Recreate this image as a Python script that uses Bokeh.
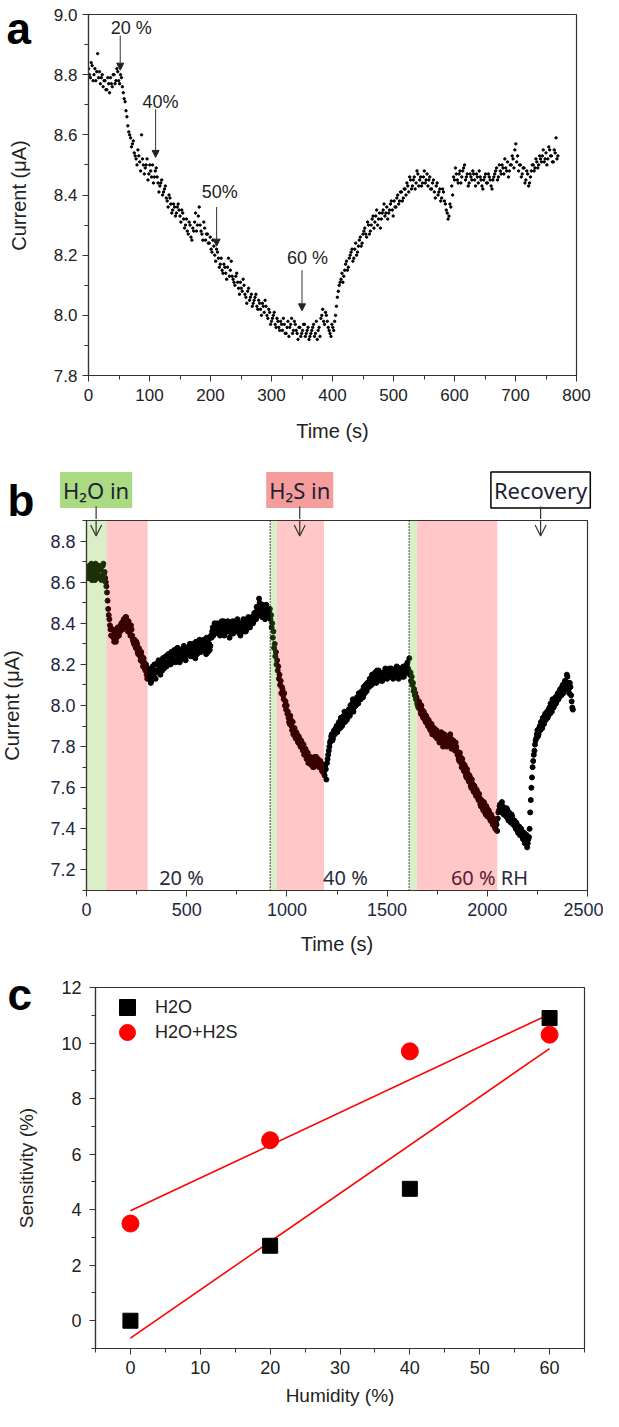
from bokeh.plotting import figure
from bokeh.layouts import column, row
from bokeh.models import (Label, Arrow, NormalHead, OpenHead, Span, BoxAnnotation,
                          SingleIntervalTicker, NumeralTickFormatter, Range1d, Legend, LegendItem)
from bokeh.core.properties import value
from bokeh.embed import file_html
from bokeh.resources import INLINE
import numpy as np

# ---------------- data: panel a (current vs time, humidity steps) -------------
a_step = 3  # s between readings (two interleaved reading sets, offset 1.5 s)
a_current = [
    8.82, 8.79, 8.83, 8.80, 8.78, 8.87, 8.81, 8.79, 8.76, 8.78, 8.75, 8.77, 8.79, 8.76, 8.80, 8.78, 8.81,
    8.77, 8.79, 8.74, 8.71, 8.66, 8.61, 8.59, 8.57, 8.54, 8.52, 8.55, 8.51, 8.60, 8.50, 8.49, 8.52,
    8.47, 8.48, 8.50, 8.46, 8.49, 8.44, 8.43, 8.45, 8.41, 8.43, 8.38, 8.40, 8.37, 8.35, 8.36, 8.34,
    8.37, 8.33, 8.35, 8.32, 8.30, 8.28, 8.31, 8.26, 8.29, 8.31, 8.28, 8.33, 8.30, 8.27, 8.31, 8.25,
    8.27, 8.24, 8.22, 8.25, 8.20, 8.22, 8.19, 8.17, 8.15, 8.17, 8.14, 8.16, 8.13, 8.18, 8.12, 8.10,
    8.14, 8.09, 8.11, 8.08, 8.10, 8.06, 8.08, 8.05, 8.07, 8.04, 8.06, 8.03, 8.05, 8.02, 8.04, 8.01,
    8.03, 7.99, 8.01, 7.98, 8.00, 7.97, 7.99, 7.96, 7.98, 7.95, 7.97, 7.94, 7.98, 7.96, 7.99, 7.95,
    7.97, 7.94, 7.96, 7.93, 7.95, 7.97, 7.94, 7.96, 7.93, 7.95, 7.97, 7.94, 7.92, 7.96, 7.99, 8.02,
    7.97, 8.00, 7.96, 7.94, 7.97, 7.95, 8.00, 8.06, 8.10, 8.12, 8.11, 8.15, 8.18, 8.16, 8.20, 8.22,
    8.19, 8.24, 8.21, 8.25, 8.23, 8.27, 8.29, 8.26, 8.30, 8.28, 8.32, 8.29, 8.33, 8.30, 8.34, 8.32,
    8.35, 8.33, 8.36, 8.34, 8.37, 8.35, 8.38, 8.36, 8.40, 8.38, 8.41, 8.39, 8.42, 8.44, 8.41, 8.45,
    8.43, 8.46, 8.44, 8.47, 8.45, 8.43, 8.46, 8.44, 8.47, 8.45, 8.42, 8.44, 8.41, 8.43, 8.40, 8.42,
    8.39, 8.41, 8.37, 8.34, 8.33, 8.36, 8.40, 8.45, 8.47, 8.44, 8.48, 8.46, 8.49, 8.45, 8.47, 8.44,
    8.46, 8.48, 8.45, 8.47, 8.44, 8.46, 8.43, 8.45, 8.47, 8.44, 8.46, 8.43, 8.45, 8.47, 8.49, 8.46,
    8.48, 8.50, 8.47, 8.49, 8.51, 8.48, 8.50, 8.52, 8.55, 8.51, 8.48, 8.50, 8.47, 8.49, 8.45, 8.47,
    8.44, 8.48, 8.50, 8.49, 8.51, 8.50, 8.52, 8.53, 8.51, 8.54, 8.52, 8.55, 8.53, 8.51, 8.54, 8.52,
]
a_current_2 = [
    8.80, 8.84, 8.78, 8.82, 8.81, 8.79, 8.77, 8.80, 8.78, 8.75, 8.79, 8.74, 8.77, 8.80, 8.77, 8.82, 8.78,
    8.80, 8.76, 8.72, 8.68, 8.63, 8.60, 8.56, 8.58, 8.53, 8.50, 8.53, 8.48, 8.52, 8.47, 8.50, 8.45,
    8.50, 8.46, 8.44, 8.48, 8.46, 8.41, 8.44, 8.40, 8.42, 8.39, 8.36, 8.39, 8.34, 8.37, 8.33, 8.36,
    8.35, 8.31, 8.34, 8.29, 8.32, 8.27, 8.30, 8.25, 8.28, 8.34, 8.30, 8.36, 8.28, 8.25, 8.29, 8.27,
    8.24, 8.26, 8.21, 8.23, 8.18, 8.21, 8.16, 8.19, 8.14, 8.16, 8.12, 8.19, 8.15, 8.13, 8.11, 8.13,
    8.11, 8.07, 8.09, 8.12, 8.07, 8.04, 8.09, 8.06, 8.03, 8.05, 8.07, 8.02, 8.04, 8.00, 8.03, 8.05,
    8.00, 8.02, 7.97, 7.99, 8.01, 7.96, 7.98, 7.95, 7.97, 7.99, 7.94, 7.96, 7.93, 7.97, 7.94, 7.98,
    7.95, 7.92, 7.96, 7.94, 7.97, 7.93, 7.95, 7.92, 7.94, 7.96, 7.93, 7.98, 7.95, 7.93, 8.00, 7.98,
    8.01, 7.98, 7.95, 7.93, 7.96, 7.98, 8.03, 8.08, 8.11, 8.14, 8.13, 8.17, 8.15, 8.19, 8.21, 8.18,
    8.22, 8.20, 8.23, 8.26, 8.24, 8.28, 8.27, 8.31, 8.27, 8.30, 8.33, 8.31, 8.35, 8.32, 8.29, 8.34,
    8.37, 8.34, 8.32, 8.35, 8.38, 8.33, 8.36, 8.39, 8.37, 8.41, 8.38, 8.42, 8.40, 8.43, 8.46, 8.42,
    8.45, 8.42, 8.48, 8.43, 8.46, 8.44, 8.48, 8.45, 8.43, 8.46, 8.42, 8.45, 8.39, 8.44, 8.41, 8.38,
    8.42, 8.38, 8.35, 8.32, 8.37, 8.43, 8.46, 8.49, 8.45, 8.47, 8.44, 8.48, 8.50, 8.46, 8.43, 8.47,
    8.45, 8.47, 8.43, 8.46, 8.48, 8.45, 8.42, 8.46, 8.44, 8.47, 8.45, 8.42, 8.46, 8.48, 8.45, 8.50,
    8.47, 8.49, 8.52, 8.48, 8.46, 8.50, 8.53, 8.49, 8.57, 8.53, 8.50, 8.46, 8.49, 8.44, 8.48, 8.43,
    8.46, 8.50, 8.48, 8.52, 8.49, 8.53, 8.51, 8.55, 8.52, 8.50, 8.56, 8.53, 8.51, 8.55, 8.59, 8.53,
]
a_time = [i * a_step for i in range(len(a_current))]
a_time_2 = [i * a_step + a_step / 2 for i in range(len(a_current_2))]
a_labels = ["20 %", "40%", "50%", "60 %"]
a_label_t = [70, 118, 215, 359]
a_label_y = [8.955, 8.71, 8.41, 8.19]
a_arrow_t = [52, 110, 210, 350]
a_arrow_y0 = [8.93, 8.685, 8.36, 8.15]
a_arrow_y1 = [8.815, 8.525, 8.23, 8.015]

# ---------------- data: panel b (H2O / H2S cycles) ----------------------------
b_step = 6  # two interleaved reading sets, offset 3 s
b_current = [
    8.64, 8.67, 8.62, 8.66, 8.69, 8.63, 8.65, 8.61, 8.67, 8.64, 8.68, 8.62, 8.66, 8.63, 8.69, 8.65, 8.60,
    8.55, 8.47, 8.42, 8.37,
    8.34, 8.37, 8.31, 8.35, 8.33, 8.38, 8.34, 8.36, 8.40, 8.37,
    8.42, 8.39, 8.43, 8.38, 8.41, 8.36, 8.39, 8.34, 8.31,
    8.32, 8.28, 8.30, 8.25, 8.27, 8.22, 8.24, 8.19, 8.21, 8.17, 8.15,
    8.18, 8.13, 8.16, 8.12, 8.19, 8.14, 8.17,
    8.20, 8.16, 8.22, 8.18, 8.21, 8.17, 8.23, 8.19, 8.24,
    8.21, 8.25, 8.22, 8.20, 8.26, 8.23, 8.27, 8.21, 8.25, 8.28, 8.24, 8.22, 8.27, 8.25, 8.29, 8.23, 8.26,
    8.28, 8.25, 8.30, 8.26, 8.24, 8.29, 8.27, 8.31, 8.25, 8.28, 8.32, 8.26, 8.29, 8.27, 8.31, 8.28, 8.33, 8.26, 8.30, 8.29,
    8.33, 8.38, 8.35, 8.39, 8.36, 8.40,
    8.37, 8.34, 8.39, 8.36, 8.41, 8.35, 8.38, 8.36, 8.40, 8.33, 8.37, 8.39, 8.35, 8.38, 8.41, 8.36,
    8.39, 8.37, 8.34, 8.40, 8.38, 8.36, 8.41, 8.37, 8.39, 8.42, 8.38,
    8.40, 8.43, 8.41, 8.45, 8.42, 8.47, 8.44, 8.50, 8.46, 8.43, 8.48, 8.45, 8.47, 8.44, 8.46,
    8.45, 8.42, 8.38, 8.33, 8.28, 8.24, 8.20,
    8.17, 8.13, 8.10, 8.06, 8.08, 8.03, 8.00, 7.98, 7.96,
    7.94, 7.91, 7.93, 7.88, 7.86, 7.89, 7.84, 7.86, 7.82,
    7.84, 7.80, 7.82, 7.78, 7.76, 7.79, 7.74, 7.77, 7.73,
    7.75, 7.71, 7.74, 7.70, 7.73, 7.75, 7.71, 7.73,
    7.70, 7.72, 7.68, 7.71, 7.66, 7.69,
    7.72, 7.76, 7.80, 7.83, 7.86, 7.84, 7.88,
    7.87, 7.90, 7.88, 7.92, 7.89, 7.93, 7.91, 7.95, 7.92, 7.96, 7.94,
    7.98, 7.95, 7.99, 8.01, 7.97, 8.02, 8.00, 8.04, 8.01, 8.05, 8.03, 8.07, 8.04, 8.08, 8.10, 8.07,
    8.11, 8.09, 8.13, 8.10, 8.14, 8.12, 8.16, 8.11, 8.14, 8.17, 8.13, 8.15, 8.12, 8.16, 8.14, 8.17, 8.13,
    8.15, 8.18, 8.14, 8.16, 8.13, 8.17, 8.15, 8.19, 8.14, 8.16, 8.18, 8.15, 8.17, 8.14, 8.19, 8.16, 8.21, 8.17,
    8.15, 8.12, 8.10, 8.07, 8.05, 8.03, 8.01,
    7.99, 8.01, 7.96, 7.98, 7.94, 7.96, 7.92, 7.94,
    7.90, 7.92, 7.88, 7.91, 7.87, 7.89, 7.85, 7.88, 7.84, 7.86, 7.83, 7.87, 7.82, 7.85, 7.81, 7.84, 7.82,
    7.85, 7.81, 7.84, 7.80, 7.83, 7.79, 7.82, 7.78,
    7.76, 7.73, 7.75, 7.70, 7.72, 7.68, 7.70, 7.65, 7.67,
    7.63, 7.65, 7.60, 7.62, 7.58, 7.60, 7.56, 7.58, 7.54,
    7.55, 7.51, 7.53, 7.49, 7.52, 7.47, 7.50, 7.46,
    7.48, 7.44, 7.46, 7.42, 7.44, 7.40, 7.42,
    7.45, 7.49, 7.52, 7.48, 7.51, 7.47,
    7.50, 7.46, 7.49, 7.44, 7.47, 7.43, 7.46,
    7.42, 7.44, 7.40, 7.42, 7.38, 7.41, 7.37,
    7.39, 7.35, 7.38, 7.34, 7.37, 7.33, 7.36,
    7.48, 7.60, 7.70, 7.76, 7.81,
    7.84, 7.88, 7.86, 7.90, 7.92, 7.89, 7.93, 7.95,
    7.93, 7.97, 7.95, 7.99, 8.01, 7.97, 8.02, 8.00, 8.04, 8.02,
    8.06, 8.04, 8.08, 8.05, 8.10, 8.07, 8.12, 8.09, 8.14,
    8.08, 8.11, 8.05, 7.99,
]
b_current_2 = [
    8.66, 8.62, 8.68, 8.64, 8.61, 8.67, 8.63, 8.69, 8.62, 8.66, 8.63, 8.67, 8.61, 8.68, 8.64, 8.62, 8.58,
    8.51, 8.44, 8.39, 8.34,
    8.37, 8.33, 8.36, 8.31, 8.36, 8.34, 8.37, 8.39, 8.37, 8.41,
    8.38, 8.43, 8.40, 8.36, 8.39, 8.34, 8.37, 8.32, 8.30,
    8.29, 8.31, 8.26, 8.28, 8.24, 8.26, 8.21, 8.23, 8.18, 8.20, 8.13,
    8.15, 8.17, 8.11, 8.18, 8.15, 8.20, 8.13,
    8.17, 8.21, 8.18, 8.15, 8.20, 8.23, 8.18, 8.21, 8.19,
    8.24, 8.20, 8.23, 8.26, 8.21, 8.25, 8.22, 8.26, 8.28, 8.23, 8.21, 8.26, 8.24, 8.28, 8.25, 8.22, 8.27,
    8.25, 8.29, 8.24, 8.28, 8.30, 8.26, 8.23, 8.28, 8.30, 8.26, 8.29, 8.31, 8.27, 8.32, 8.28, 8.25, 8.30, 8.32, 8.27, 8.34,
    8.36, 8.34, 8.40, 8.37, 8.38, 8.35,
    8.39, 8.36, 8.41, 8.38, 8.34, 8.39, 8.37, 8.41, 8.36, 8.39, 8.35, 8.41, 8.38, 8.36, 8.39, 8.42,
    8.37, 8.35, 8.40, 8.37, 8.42, 8.39, 8.36, 8.40, 8.43, 8.39, 8.41,
    8.43, 8.40, 8.45, 8.43, 8.48, 8.44, 8.52, 8.47, 8.44, 8.49, 8.46, 8.42, 8.49, 8.46, 8.43,
    8.47, 8.44, 8.40, 8.36, 8.30, 8.26, 8.22,
    8.19, 8.15, 8.12, 8.09, 8.05, 8.06, 8.02, 8.00, 7.97,
    7.92, 7.95, 7.90, 7.92, 7.87, 7.85, 7.87, 7.83, 7.85,
    7.81, 7.83, 7.79, 7.81, 7.77, 7.78, 7.76, 7.72, 7.75,
    7.72, 7.74, 7.70, 7.75, 7.71, 7.72, 7.74, 7.70,
    7.73, 7.69, 7.71, 7.67, 7.70, 7.64,
    7.74, 7.78, 7.82, 7.85, 7.83, 7.87, 7.86,
    7.89, 7.87, 7.91, 7.90, 7.94, 7.90, 7.93, 7.97, 7.94, 7.93, 7.97,
    7.96, 8.00, 7.97, 8.03, 7.99, 8.00, 8.03, 8.02, 8.06, 8.03, 8.06, 8.05, 8.09, 8.06, 8.09, 8.11,
    8.10, 8.13, 8.11, 8.15, 8.11, 8.14, 8.13, 8.17, 8.12, 8.15, 8.16, 8.12, 8.16, 8.14, 8.18, 8.15, 8.15,
    8.17, 8.15, 8.18, 8.14, 8.17, 8.15, 8.18, 8.16, 8.13, 8.18, 8.16, 8.14, 8.19, 8.16, 8.17, 8.20, 8.18, 8.23,
    8.16, 8.14, 8.11, 8.08, 8.06, 8.04, 8.00,
    8.02, 7.98, 8.00, 7.95, 7.97, 7.93, 7.95, 7.91,
    7.93, 7.89, 7.91, 7.86, 7.89, 7.86, 7.88, 7.84, 7.87, 7.82, 7.85, 7.84, 7.80, 7.86, 7.83, 7.80, 7.85,
    7.82, 7.86, 7.79, 7.83, 7.81, 7.78, 7.80, 7.76,
    7.74, 7.77, 7.72, 7.74, 7.69, 7.71, 7.66, 7.69, 7.64,
    7.66, 7.61, 7.64, 7.59, 7.61, 7.57, 7.59, 7.55, 7.57,
    7.52, 7.54, 7.50, 7.53, 7.48, 7.51, 7.46, 7.49,
    7.45, 7.47, 7.43, 7.45, 7.41, 7.43, 7.39,
    7.48, 7.51, 7.49, 7.53, 7.48, 7.50,
    7.47, 7.50, 7.45, 7.48, 7.45, 7.47, 7.43,
    7.44, 7.41, 7.43, 7.39, 7.41, 7.37, 7.40,
    7.36, 7.38, 7.33, 7.36, 7.31, 7.35, 7.40,
    7.54, 7.65, 7.73, 7.78, 7.83,
    7.86, 7.85, 7.89, 7.88, 7.91, 7.94, 7.91, 7.96,
    7.95, 7.94, 7.98, 7.96, 7.99, 8.03, 7.99, 8.02, 8.01, 8.05,
    8.03, 8.07, 8.05, 8.09, 8.06, 8.11, 8.08, 8.15, 8.11,
    8.06, 8.09, 8.02, 7.98,
]
b_time = [i * b_step for i in range(len(b_current))]
b_time_2 = [i * b_step + b_step / 2 for i in range(len(b_current_2))]
b_h2o_start = [0, 917, 1610]
b_h2o_end = [100, 950, 1650]
b_h2s_start = [100, 950, 1650]
b_h2s_end = [305, 1185, 2050]
b_dotted = [917, 1610]
b_rh_labels = ["20 %", "40 %", "60 % RH"]
b_rh_t = [474, 1292, 2011]
b_stage_labels = ["H\u2082O in", "H\u2082S in", "Recovery"]
b_stage_t = [48, 1064, 2266]

# ---------------- data: panel c (sensitivity vs humidity) --------------------
humidity = [0, 20, 40, 60]
sens_h2o = [0.0, 2.7, 4.75, 10.9]
sens_h2o_h2s = [3.5, 6.5, 9.7, 10.3]

ARIAL = "Liberation Sans"
CAL = "Noto Sans"
TXT = "#222222"
STRIP_W = 42
PLOT_W = 561


def no_align(p):
    if "frame_align" in p.properties():
        p.frame_align = False
    return p


def base_fig(h, xr, yr, left, right, top, bottom):
    p = figure(width=PLOT_W, height=h, x_range=Range1d(*xr), y_range=Range1d(*yr),
               output_backend="svg", toolbar_location=None,
               min_border_left=left, min_border_right=right,
               min_border_top=top, min_border_bottom=bottom)
    no_align(p)
    p.grid.visible = False
    p.outline_line_color = "#333333"
    p.outline_line_width = 1.2
    for ax in (p.xaxis[0], p.yaxis[0]):
        ax.axis_line_color = "#333333"
        ax.axis_line_width = 1.2
        ax.major_tick_line_color = "#333333"
        ax.minor_tick_line_color = "#333333"
        ax.major_tick_out = 6
        ax.major_tick_in = 0
        ax.minor_tick_out = 4
        ax.minor_tick_in = 0
        ax.major_label_text_font = ARIAL
        ax.axis_label_text_font = ARIAL
        ax.axis_label_text_font_style = "normal"
        ax.major_label_text_color = TXT
        ax.axis_label_text_color = TXT
    return p


def blank_fig(w, h, xr, yr):
    s = figure(width=w, height=h, x_range=Range1d(*xr), y_range=Range1d(*yr),
               output_backend="svg", toolbar_location=None,
               x_axis_location=None, y_axis_location=None,
               min_border_left=0, min_border_right=0, min_border_top=0, min_border_bottom=0)
    no_align(s)
    s.grid.visible = False
    s.outline_line_color = None
    return s


def letter(fig, x, y, txt, size="44px"):
    fig.text(x=[x], y=[y], text=[txt], text_font=value(ARIAL), text_font_style="bold",
             text_font_size=size, text_color="black", text_baseline="top")


def ytitle(fig, x, y, txt, size):
    fig.text(x=[x], y=[y], text=[txt], angle=np.pi / 2, text_align="center",
             text_baseline="middle", text_font=value(ARIAL), text_font_size=size, text_color=TXT)


# ================= panel a =================
HA = 454
sa = blank_fig(STRIP_W, HA, (0, STRIP_W), (0, HA))
letter(sa, 6, HA - 3, "a")
ytitle(sa, 18, HA - 195, "Current (\u03bcA)", "20px")

pa = base_fig(HA, (0, 800), (7.8, 9.0), 46, 27, 14, 79)
pa.xaxis[0].ticker = SingleIntervalTicker(interval=100, num_minor_ticks=2)
pa.yaxis[0].ticker = SingleIntervalTicker(interval=0.2, num_minor_ticks=2)
pa.yaxis[0].formatter = NumeralTickFormatter(format="0.0")
pa.xaxis[0].axis_label = "Time (s)"
for ax in (pa.xaxis[0], pa.yaxis[0]):
    ax.major_label_text_font_size = "17px"
    ax.axis_label_text_font_size = "20px"
pa.xaxis[0].major_label_standoff = 7
pa.xaxis[0].axis_label_standoff = 16
pa.scatter(a_time, a_current, size=2.4, color="black", marker="circle")
pa.scatter(a_time_2, a_current_2, size=2.4, color="black", marker="circle")
for lab, lt, ly in zip(a_labels, a_label_t, a_label_y):
    pa.add_layout(Label(x=lt, y=ly, text=lab, text_align="center", text_baseline="middle",
                        text_font=ARIAL, text_font_size="18px", text_color=TXT))
for t, y0, y1 in zip(a_arrow_t, a_arrow_y0, a_arrow_y1):
    pa.add_layout(Arrow(x_start=t, y_start=y0, x_end=t, y_end=y1, line_color="#333333", line_width=1,
                        end=NormalHead(size=7, fill_color="#222222", line_color="#222222")))

row_a = row(sa, pa, spacing=0)

# ================= panel b =================
HB_HEAD = 65
HB = 447
HB_ALL = HB_HEAD + HB
b_px = 2500 / 501.0                     # seconds per pixel in panel b frame
sb = blank_fig(STRIP_W, HB_ALL, (0, STRIP_W), (0, HB_ALL))
letter(sb, 7, HB_ALL - 21, "b")
ytitle(sb, 11, HB_ALL - 251, "Current (\u03bcA)", "20px")

head = blank_fig(PLOT_W, HB_HEAD, (-44 * b_px, 2500 + 16 * b_px), (0, HB_HEAD))
box_fill = ["#aadb82", "#f59c9c", "white"]
box_line = [None, None, "black"]
for lab, t, fc, lc in zip(b_stage_labels, b_stage_t, box_fill, box_line):
    head.add_layout(Label(x=t, y=29.5, text=lab, text_align="center", text_baseline="middle",
                          text_font=CAL, text_font_size="22px", text_color="#1c2233",
                          background_fill_color=fc, border_line_color=lc, border_line_width=1.5,
                          padding=3))
    head.add_layout(Arrow(x_start=t, y_start=13, x_end=t, y_end=0, line_color="#333333",
                          line_width=1.2, end=None))

pb = base_fig(HB, (0, 2500), (7.1, 8.9), 44, 16, 1, 76)
pb.xaxis[0].ticker = SingleIntervalTicker(interval=500, num_minor_ticks=2)
pb.yaxis[0].ticker = SingleIntervalTicker(interval=0.2, num_minor_ticks=2)
pb.yaxis[0].formatter = NumeralTickFormatter(format="0.0")
pb.xaxis[0].axis_label = "Time (s)"
for ax in (pb.xaxis[0], pb.yaxis[0]):
    ax.major_label_text_font_size = "18px"
    ax.axis_label_text_font_size = "20px"
    ax.major_label_text_color = "#1c2740"
pb.xaxis[0].major_label_standoff = 6
pb.xaxis[0].axis_label_standoff = 14
pb.scatter(b_time, b_current, size=5, color="black", marker="circle")
pb.scatter(b_time_2, b_current_2, size=5, color="black", marker="circle")
pb.text(x=b_rh_t, y=[7.165] * len(b_rh_t), text=b_rh_labels, text_align="center",
        text_baseline="middle", text_font=value(CAL), text_font_size="20px", text_color="#2a2a3a")
for s, e in zip(b_h2o_start, b_h2o_end):
    pb.add_layout(BoxAnnotation(left=s, right=e, fill_color="#6dbf1e", fill_alpha=0.25, line_alpha=0))
for s, e in zip(b_h2s_start, b_h2s_end):
    pb.add_layout(BoxAnnotation(left=s, right=e, fill_color="#ff0000", fill_alpha=0.22, line_alpha=0))
for d in b_dotted:
    pb.add_layout(Span(location=d, dimension="height", line_color="black", line_width=1.4,
                       line_dash="1 2"))
for t in b_stage_t:
    pb.add_layout(Arrow(x_start=t, y_start=8.95, x_end=t, y_end=8.825, line_color="#333333",
                        line_width=1.2, end=OpenHead(size=11, line_color="#333333", line_width=1.2)))

row_b = row(sb, column(head, pb, spacing=0), spacing=0)

# ================= panel c =================
HC = 445
sc = blank_fig(STRIP_W, HC, (0, STRIP_W), (0, HC))
letter(sc, 7, HC - 3, "c")
ytitle(sc, 26, HC - 201.5, "Sensitivity (%)", "19px")

pc = base_fig(HC, (-5, 65), (-1, 12), 53, 19, 21, 63)
pc.xaxis[0].ticker = SingleIntervalTicker(interval=10, num_minor_ticks=2)
pc.yaxis[0].ticker = SingleIntervalTicker(interval=2, num_minor_ticks=2)
pc.xaxis[0].axis_label = "Humidity (%)"
for ax in (pc.xaxis[0], pc.yaxis[0]):
    ax.major_label_text_font_size = "18px"
    ax.axis_label_text_font_size = "19px"
pc.xaxis[0].major_label_standoff = 6
pc.xaxis[0].axis_label_standoff = 8
pc.yaxis[0].major_label_standoff = 8

hx = np.array(humidity, dtype=float)
k1, b1 = np.polyfit(hx, np.array(sens_h2o), 1)
k2, b2 = np.polyfit(hx, np.array(sens_h2o_h2s), 1)
fit_x = [hx.min(), hx.max()]
pc.line(fit_x, [b1 + k1 * v for v in fit_x], line_color="red", line_width=1.6)
pc.line(fit_x, [b2 + k2 * v for v in fit_x], line_color="red", line_width=1.6)
r1 = pc.scatter(humidity, sens_h2o, marker="square", size=15, color="black")
r2 = pc.scatter(humidity, sens_h2o_h2s, marker="circle", size=17, color="red")
frame_h = HC - 21 - 63
for lab, rr, top_off in (("H2O", r1, 0), ("H2O+H2S", r2, 25)):
    lg = Legend(items=[LegendItem(label=lab, renderers=[rr])],
                location=(12, frame_h - top_off - 40), padding=0, margin=0,
                glyph_width=40, glyph_height=40, label_standoff=8,
                border_line_alpha=0, background_fill_alpha=0,
                label_text_font=ARIAL, label_text_font_size="18px", label_text_color=TXT)
    pc.add_layout(lg)

row_c = row(sc, pc, spacing=0)

layout = column(row_a, row_b, row_c, spacing=0)
open("out.html", "w").write(file_html(layout, INLINE))
